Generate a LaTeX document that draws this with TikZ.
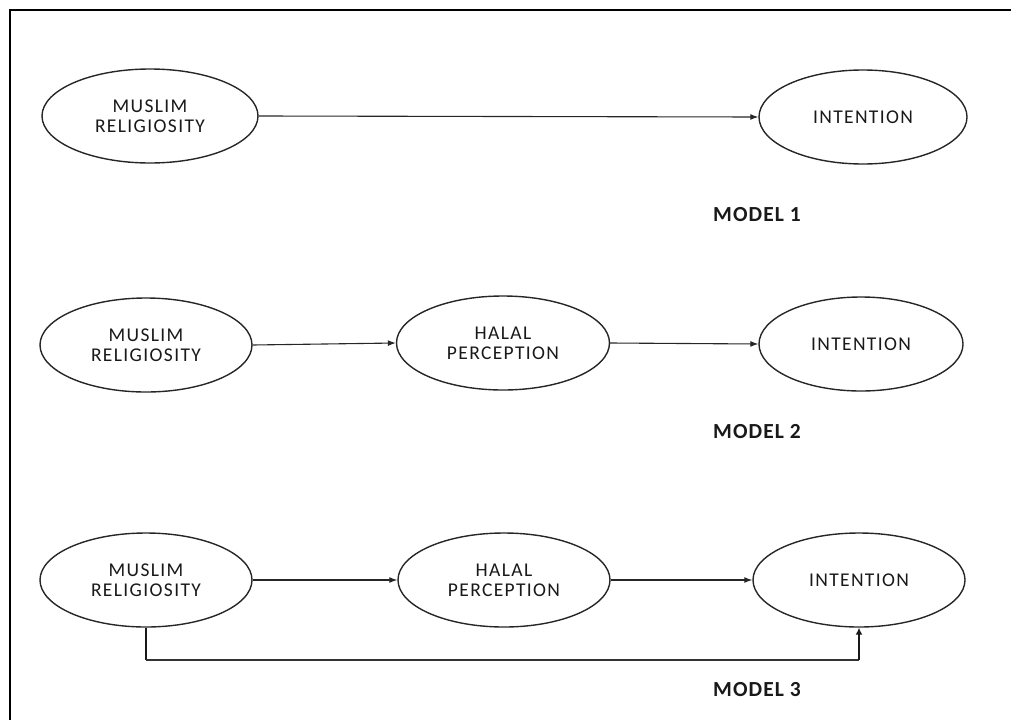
\documentclass[tikz,border=0pt]{standalone}
\usepackage{fontspec}
\setmainfont{Carlito}
\usetikzlibrary{shapes.geometric,arrows.meta}
\begin{document}
\begin{tikzpicture}[x=1pt,y=-1pt,
  var/.style={ellipse,draw=black!85,line width=1.4pt,minimum width=212pt,minimum height=94pt,inner sep=0pt,
    align=center,text=black!90,font=\addfontfeature{LetterSpace=7}\fontsize{19.5}{20}\selectfont},
  lbl/.style={font=\addfontfeature{LetterSpace=5}\fontsize{21.5}{22}\selectfont\bfseries,text=black!90},
  arr/.style={line width=1.1pt,draw=black!85,-{Latex[length=8pt,width=6pt]}},
  fb/.style={line width=2.6pt,draw=black!90},
  fbh/.style={line width=1.3pt,draw=black!80}]
\useasboundingbox (0,0) rectangle (1011,720);
\draw[line width=1.5pt] (1011,10) -- (10,10) -- (10,720);
% Model 1
\node[var,minimum width=216pt] (m1) at (150,116) {MUSLIM\\RELIGIOSITY};
\node[var,minimum width=208pt] (i1) at (863,117) {INTENTION};
\draw[arr] (m1.east) -- (i1.west);
\node[lbl] (l1) at (757,215) {MODEL 1};
% Model 2
\node[var] (m2) at (146,345) {MUSLIM\\RELIGIOSITY};
\node[var,minimum width=213pt] (h2) at (503,343) {HALAL\\PERCEPTION};
\node[var,minimum width=204pt] (i2) at (861,344) {INTENTION};
\draw[arr] (m2.east) -- (h2.west);
\draw[arr] (h2.east) -- (i2.west);
\node[lbl] (l2) at (757,432) {MODEL 2};
% Model 3
\node[var] (m3) at (146,580) {MUSLIM\\RELIGIOSITY};
\node[var] (h3) at (504,580) {HALAL\\PERCEPTION};
\node[var] (i3) at (859,580) {INTENTION};
\draw[arr] (m3.east) -- (h3.west);
\draw[arr] (h3.east) -- (i3.west);
\coordinate (c1) at (m3.south |- 0,660);
\coordinate (c2) at (i3.south |- 0,660);
\draw[fb] (m3.south) -- (c1);
\draw[fbh] (c1) -- (c2);
\draw[fb,-{Latex[length=7pt,width=7pt]}] (c2) -- (i3.south);
\node[lbl] (l3) at (757,690) {MODEL 3};
\end{tikzpicture}
\end{document}
